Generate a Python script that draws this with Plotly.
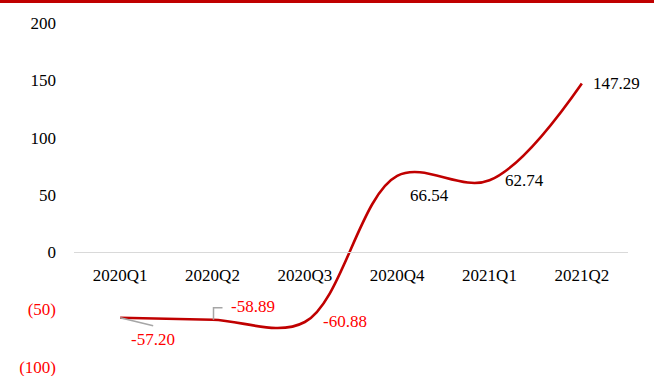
import plotly.graph_objects as go

# Quarterly series
quarters = ["2020Q1", "2020Q2", "2020Q3", "2020Q4", "2021Q1", "2021Q2"]
values = [-57.20, -58.89, -60.88, 66.54, 62.74, 147.29]

# Y axis ticks (negatives shown in parentheses, red)
y_tickvals = [-100, -50, 0, 50, 100, 150, 200]
y_ticktext = ["<span style='color:#FF0000'>(100)</span>",
              "<span style='color:#FF0000'>(50)</span>",
              "0", "50", "100", "150", "200"]

RED = "#C00000"
FONT = "Liberation Serif"
Y_MIN, Y_MAX = -108, 200
TOP = 23
PLOT_H = 376 - TOP

# label offsets in pixels (dx, dy) relative to each point
label_offsets = [(33, -22), (40, 13), (40, 1), (32, -20), (35, 0), (35, 0)]

fig = go.Figure()
fig.add_trace(go.Scatter(
    x=quarters, y=values, mode="lines",
    line=dict(color=RED, width=2.6, shape="spline", smoothing=1.0),
    hoverinfo="skip", showlegend=False,
))

for q, v, (dx, dy) in zip(quarters, values, label_offsets):
    fig.add_annotation(
        x=q, y=v, text=f"{v:.2f}", showarrow=False,
        xshift=dx, yshift=dy,
        font=dict(family=FONT, size=17, color="#FF0000" if v < 0 else "#000000"),
    )

# leader lines for the two crowded labels
fig.add_shape(type="line", xref="x", yref="y", xsizemode="pixel", ysizemode="pixel",
              xanchor=quarters[0], yanchor=values[0], x0=0, y0=0, x1=33, y1=-8,
              line=dict(color="#A6A6A6", width=1.5))
fig.add_shape(type="path", xref="x", yref="y", xsizemode="pixel", ysizemode="pixel",
              xanchor=quarters[1], yanchor=values[1],
              path="M 1 0 L 1 12 L 10 12",
              line=dict(color="#A6A6A6", width=1.5))

# red band along the top edge
fig.add_shape(type="rect", xref="paper", yref="paper",
              x0=-0.2, x1=1.2, y0=1 + (TOP - 3) / PLOT_H, y1=1 + (TOP + 2) / PLOT_H,
              fillcolor=RED, line=dict(width=0))

fig.update_layout(
    width=654, height=376,
    margin=dict(l=74, r=26, t=TOP, b=0),
    paper_bgcolor="white", plot_bgcolor="white",
    font=dict(family=FONT, size=17, color="#000000"),
    xaxis=dict(
        type="category", anchor="free", position=-Y_MIN / (Y_MAX - Y_MIN),
        showline=True, linecolor="#D9D9D9", linewidth=1,
        showgrid=False, zeroline=False, ticks="",
        ticklabelstandoff=7, automargin=False,
        tickfont=dict(family=FONT, size=17, color="#000000"),
        range=[-0.5, 5.5],
    ),
    yaxis=dict(
        range=[Y_MIN, Y_MAX], tickvals=y_tickvals, ticktext=y_ticktext,
        showgrid=False, zeroline=False, showline=False, ticks="",
        ticklabelstandoff=17, ticklabeloverflow="allow", automargin=False,
        tickfont=dict(family=FONT, size=17, color="#000000"),
    ),
)

fig.write_html("out.html")
